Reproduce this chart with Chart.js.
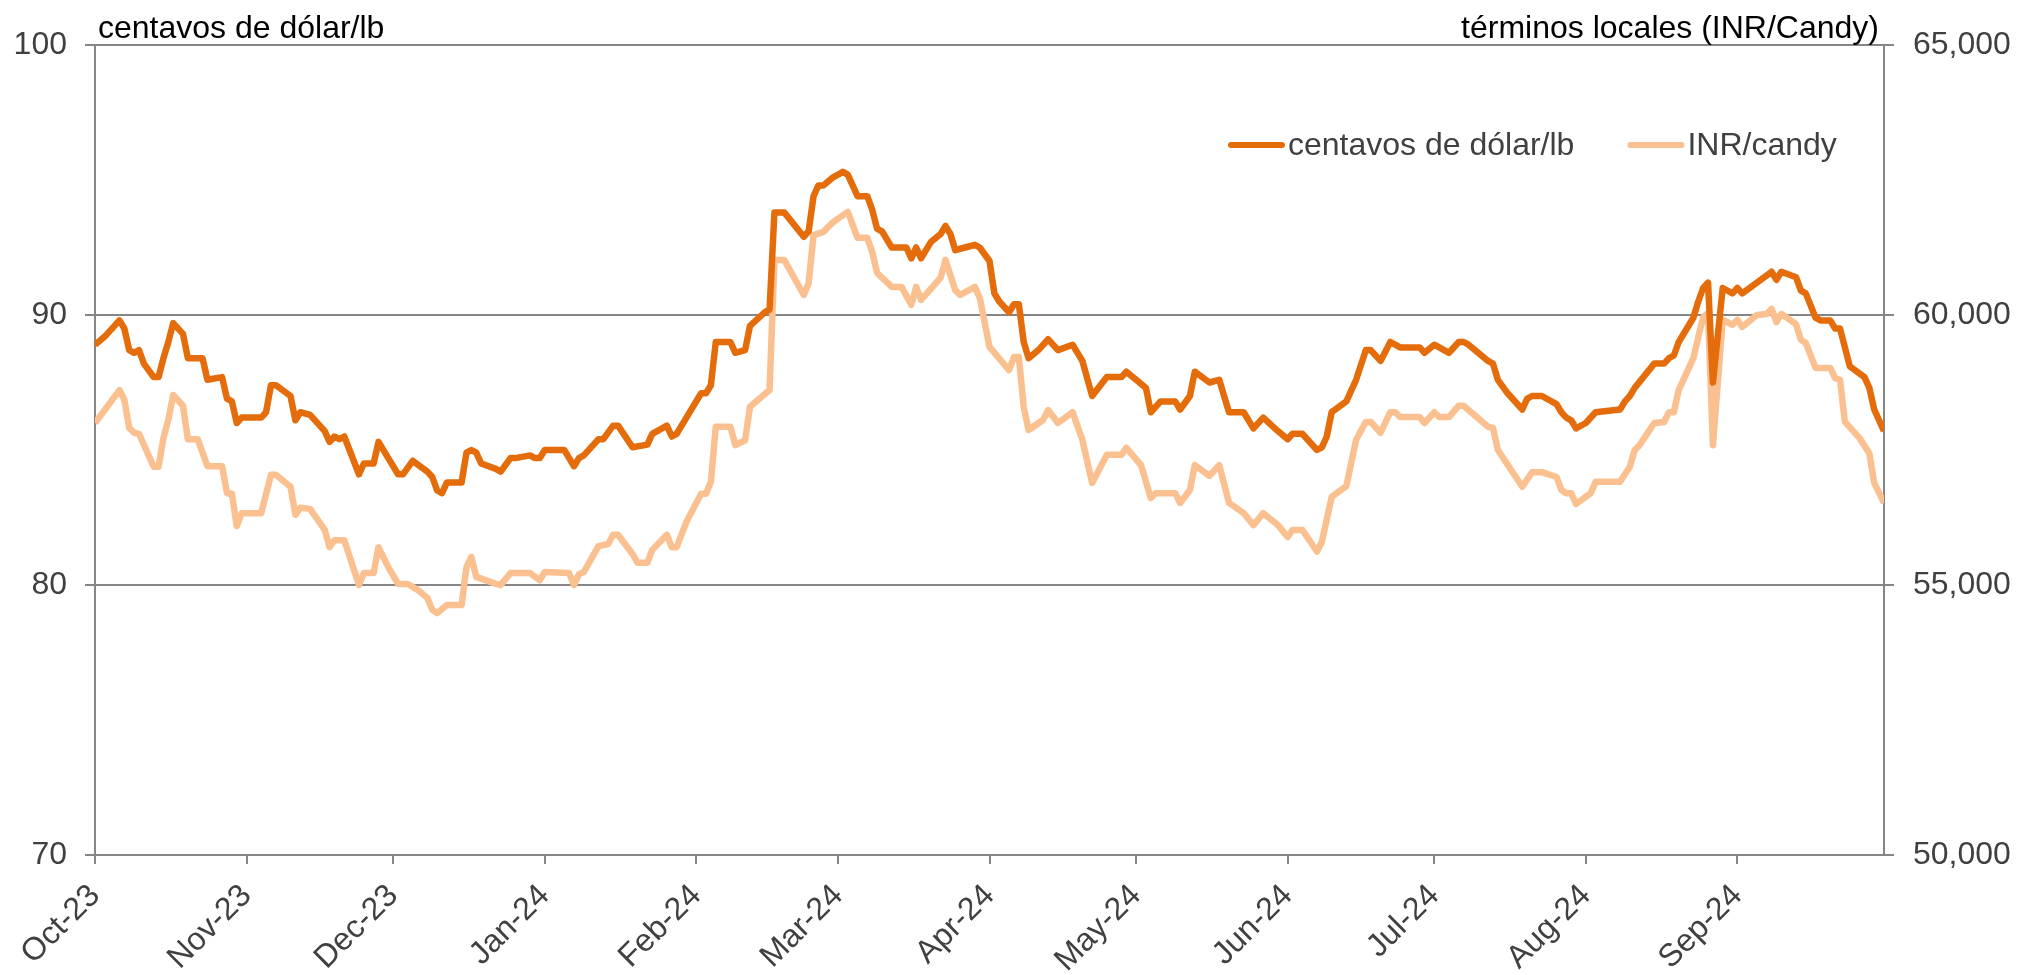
<!DOCTYPE html>
<html>
<head>
<meta charset="utf-8">
<title>Precio del algodón</title>
<script src="https://cdn.jsdelivr.net/npm/chart.js@4.4.1/dist/chart.umd.min.js"></script>
<style>
  html, body { margin: 0; padding: 0; background: #ffffff; }
  canvas { display: block; }
</style>
</head>
<body>
<canvas id="chart" width="2025" height="975"></canvas>
<script>
// axis ticks (days counted from 1 Oct 2023)
var monthStarts = [0, 31, 61, 92, 123, 152, 183, 213, 244, 274, 305, 336];
var monthLabels = ["Oct-23", "Nov-23", "Dec-23", "Jan-24", "Feb-24", "Mar-24", "Apr-24", "May-24", "Jun-24", "Jul-24", "Aug-24", "Sep-24"];

var seriesNames = ["centavos de dólar/lb", "INR/candy"];

// centavos de dólar/lb (left axis)
var usdDays = [0, 2, 5, 6, 7, 8, 9, 10, 12, 13, 14, 15, 16, 18, 19, 22, 23, 26, 27, 28, 29, 30, 34, 35, 36, 37, 40, 41, 42, 44,
  47, 48, 49, 50, 51, 54, 55, 57, 58, 60, 62, 63, 65, 68, 69, 70, 71, 72, 75, 76, 77, 78, 79, 82, 83, 85, 86, 89, 90, 91,
  92, 96, 97, 98, 99, 100, 103, 104, 106, 107, 110, 113, 114, 117, 118, 119, 121, 124, 125, 126, 127, 130, 131, 133, 134, 137, 138, 139, 141, 145,
  146, 147, 148, 149, 151, 153, 154, 156, 158, 159, 160, 161, 163, 166, 167, 168, 169, 171, 173, 174, 175, 176, 178, 180, 181, 183, 184, 185, 187, 188,
  189, 190, 191, 193, 195, 197, 200, 202, 204, 207, 210, 211, 213, 215, 216, 218, 221, 222, 224, 225, 228, 230, 232, 235, 237, 239, 242, 244, 245, 247,
  250, 251, 252, 253, 256, 258, 260, 261, 263, 265, 266, 267, 271, 272, 274, 275, 277, 279, 280, 281, 285, 286, 287, 289, 292, 293, 294, 296, 299, 300,
  301, 302, 303, 305, 307, 312, 313, 314, 315, 319, 321, 322, 323, 324, 327, 328, 329, 330, 331, 333, 335, 336, 337, 340, 343, 344, 345, 348, 349, 350,
  352, 353, 355, 356, 357, 359, 362, 363, 364, 366];
var usdValues = [88.9, 89.2, 89.8, 89.5, 88.7, 88.6, 88.7, 88.2, 87.7, 87.7, 88.4, 89.0, 89.7, 89.3, 88.4, 88.4, 87.6, 87.7, 86.9, 86.8, 86.0, 86.2, 86.2, 86.4, 87.4, 87.4, 87.0, 86.1, 86.4, 86.3,
  85.7, 85.3, 85.5, 85.4, 85.5, 84.1, 84.5, 84.5, 85.3, 84.7, 84.1, 84.1, 84.6, 84.2, 84.0, 83.5, 83.4, 83.8, 83.8, 84.9, 85.0, 84.9, 84.5, 84.3, 84.2, 84.7, 84.7, 84.8, 84.7, 84.7,
  85.0, 85.0, 84.7, 84.4, 84.7, 84.8, 85.4, 85.4, 85.9, 85.9, 85.1, 85.2, 85.6, 85.9, 85.5, 85.6, 86.2, 87.1, 87.1, 87.4, 89.0, 89.0, 88.6, 88.7, 89.6, 90.1, 90.2, 93.8, 93.8, 92.9,
  93.1, 94.4, 94.8, 94.8, 95.1, 95.3, 95.2, 94.4, 94.4, 93.9, 93.2, 93.1, 92.5, 92.5, 92.1, 92.5, 92.1, 92.7, 93.0, 93.3, 93.0, 92.4, 92.5, 92.6, 92.5, 92.0, 90.8, 90.5, 90.1, 90.4,
  90.4, 89.0, 88.4, 88.7, 89.1, 88.7, 88.9, 88.3, 87.0, 87.7, 87.7, 87.9, 87.6, 87.3, 86.4, 86.8, 86.8, 86.5, 87.0, 87.9, 87.5, 87.6, 86.4, 86.4, 85.8, 86.2, 85.7, 85.4, 85.6, 85.6,
  85.0, 85.1, 85.5, 86.4, 86.8, 87.6, 88.7, 88.7, 88.3, 89.0, 88.9, 88.8, 88.8, 88.6, 88.9, 88.8, 88.6, 89.0, 89.0, 88.9, 88.3, 88.2, 87.6, 87.1, 86.5, 86.9, 87.0, 87.0, 86.7, 86.4,
  86.2, 86.1, 85.8, 86.0, 86.4, 86.5, 86.8, 87.0, 87.3, 88.2, 88.2, 88.4, 88.5, 89.0, 89.9, 90.5, 91.0, 91.2, 87.5, 91.0, 90.8, 91.0, 90.8, 91.2, 91.6, 91.3, 91.6, 91.4, 90.9, 90.8,
  89.9, 89.8, 89.8, 89.5, 89.5, 88.1, 87.7, 87.3, 86.5, 85.7];

// INR/candy (right axis)
var inrDays = [0, 2, 5, 6, 7, 8, 9, 12, 13, 14, 15, 16, 18, 19, 21, 23, 26, 27, 28, 29, 30, 34, 36, 37, 40, 41, 42, 44, 47, 48,
  49, 51, 54, 55, 57, 58, 60, 62, 64, 66, 68, 69, 70, 72, 75, 76, 77, 78, 82, 83, 85, 89, 91, 92, 97, 98, 99, 100, 103, 105,
  106, 107, 110, 111, 113, 114, 117, 118, 119, 121, 124, 125, 126, 127, 130, 131, 133, 134, 138, 139, 141, 145, 146, 147, 149, 151, 154, 156, 158, 159,
  160, 161, 163, 165, 167, 168, 169, 173, 174, 176, 177, 180, 181, 183, 187, 188, 189, 190, 191, 194, 195, 197, 200, 202, 204, 207, 210, 211, 214, 216,
  217, 221, 222, 224, 225, 228, 230, 232, 235, 237, 239, 242, 244, 245, 247, 250, 251, 253, 256, 258, 260, 261, 263, 265, 266, 267, 271, 272, 274, 275,
  277, 279, 280, 281, 285, 286, 287, 292, 294, 296, 299, 300, 301, 302, 303, 306, 307, 312, 314, 315, 316, 319, 321, 322, 323, 324, 327, 328, 329, 330,
  331, 333, 335, 336, 337, 340, 342, 343, 344, 345, 348, 349, 350, 352, 355, 356, 357, 358, 361, 363, 364, 366];
var inrValues = [58000, 58240, 58610, 58430, 57910, 57820, 57800, 57190, 57190, 57720, 58060, 58520, 58320, 57700, 57700, 57200, 57200, 56700, 56690, 56090, 56330, 56330, 57040, 57040, 56820, 56300, 56430, 56410, 56020, 55700,
  55830, 55830, 55000, 55220, 55220, 55700, 55330, 55020, 55020, 54910, 54760, 54540, 54480, 54630, 54630, 55330, 55520, 55150, 55020, 55000, 55220, 55220, 55090, 55240, 55220, 55000, 55200, 55240, 55720, 55760,
  55930, 55930, 55570, 55410, 55410, 55650, 55930, 55700, 55700, 56170, 56690, 56690, 56910, 57930, 57930, 57590, 57680, 58300, 58610, 61020, 61020, 60370, 60590, 61480, 61540, 61720, 61910, 61430, 61430, 61170,
  60780, 60690, 60520, 60520, 60190, 60520, 60280, 60690, 61020, 60460, 60370, 60520, 60320, 59410, 58980, 59220, 59220, 58300, 57870, 58060, 58240, 58000, 58200, 57690, 56890, 57410, 57410, 57540, 57220, 56610,
  56700, 56700, 56520, 56760, 57220, 57020, 57220, 56520, 56330, 56110, 56330, 56110, 55890, 56020, 56020, 55620, 55800, 56630, 56830, 57690, 58020, 58020, 57820, 58200, 58200, 58110, 58110, 58000, 58200, 58110,
  58110, 58320, 58320, 58240, 57930, 57910, 57500, 56820, 57090, 57090, 57000, 56760, 56700, 56700, 56500, 56700, 56910, 56910, 57190, 57500, 57590, 58000, 58020, 58200, 58200, 58610, 59200, 59590, 59960, 60040,
  57590, 59910, 59820, 59910, 59780, 60000, 60020, 60110, 59870, 60020, 59830, 59540, 59480, 59020, 59020, 58830, 58800, 58020, 57720, 57440, 56890, 56520];

var darkOrange = "#e46c0a";
var lightOrange = "#fac090";
var axisGrey = "#868686";
var textGrey = "#404040";
var fontFamily = "'Liberation Sans', Arial, Helvetica, sans-serif";

function toPoints(days, values) {
  var pts = [];
  for (var i = 0; i < days.length; i++) {
    pts.push({ x: days[i], y: values[i] });
  }
  return pts;
}

// draws the two axis captions and the legend inside the plot
var captionsPlugin = {
  id: "captions",
  afterDraw: function (chart) {
    var ctx = chart.ctx;
    var area = chart.chartArea;
    ctx.save();
    ctx.font = "32px " + fontFamily;
    ctx.textBaseline = "alphabetic";
    ctx.fillStyle = "#000000";
    ctx.textAlign = "left";
    ctx.fillText("centavos de dólar/lb", area.left + 3, 38);
    ctx.textAlign = "right";
    ctx.fillText("términos locales (INR/Candy)", area.right - 5, 38);

    // legend
    var x = 1228;
    var y = 145;
    ctx.textAlign = "left";
    ctx.textBaseline = "middle";
    chart.data.datasets.forEach(function (ds) {
      ctx.strokeStyle = ds.borderColor;
      ctx.lineWidth = 6;
      ctx.lineCap = "round";
      ctx.beginPath();
      ctx.moveTo(x + 3, y);
      ctx.lineTo(x + 54, y);
      ctx.stroke();
      ctx.fillStyle = textGrey;
      ctx.fillText(ds.label, x + 60, y + 1);
      x += 60 + ctx.measureText(ds.label).width + 53;
    });
    ctx.restore();
  }
};

var config = {
  type: "line",
  data: {
    datasets: [
      {
        label: seriesNames[0],
        data: toPoints(usdDays, usdValues),
        yAxisID: "yL",
        borderColor: darkOrange,
        backgroundColor: darkOrange,
        borderWidth: 6.5,
        pointRadius: 0,
        tension: 0,
        borderJoinStyle: "round"
      },
      {
        label: seriesNames[1],
        data: toPoints(inrDays, inrValues),
        yAxisID: "yR",
        borderColor: lightOrange,
        backgroundColor: lightOrange,
        borderWidth: 6.5,
        pointRadius: 0,
        tension: 0,
        borderJoinStyle: "round"
      }
    ]
  },
  options: {
    responsive: false,
    animation: false,
    devicePixelRatio: 1,
    layout: { padding: { top: 45, left: 0, right: 0, bottom: 0 } },
    plugins: {
      legend: { display: false },
      tooltip: { enabled: false }
    },
    scales: {
      x: {
        type: "linear",
        min: 0,
        max: 366,
        afterBuildTicks: function (scale) {
          scale.ticks = monthStarts.map(function (d) { return { value: d }; });
        },
        afterFit: function (scale) { scale.height = 120; },
        border: { color: axisGrey, width: 2 },
        grid: { drawOnChartArea: false, drawTicks: true, tickLength: 9, color: axisGrey, lineWidth: 2 },
        ticks: {
          autoSkip: false,
          minRotation: 45,
          maxRotation: 45,
          padding: 13,
          color: textGrey,
          font: { family: fontFamily, size: 32 },
          callback: function (value) {
            var i = monthStarts.indexOf(value);
            return i >= 0 ? monthLabels[i] : "";
          }
        }
      },
      yL: {
        position: "left",
        min: 70,
        max: 100,
        afterFit: function (scale) { scale.width = 95; },
        border: { color: axisGrey, width: 2 },
        grid: { color: axisGrey, lineWidth: 2, tickLength: 10 },
        ticks: {
          stepSize: 10,
          padding: 18,
          color: textGrey,
          font: { family: fontFamily, size: 32 }
        }
      },
      yR: {
        position: "right",
        min: 50000,
        max: 65000,
        afterFit: function (scale) { scale.width = 141; },
        border: { color: axisGrey, width: 2 },
        grid: { drawOnChartArea: false, color: axisGrey, lineWidth: 2, tickLength: 10 },
        ticks: {
          stepSize: 5000,
          padding: 19,
          color: textGrey,
          font: { family: fontFamily, size: 32 },
          callback: function (value) { return value.toLocaleString("en-US"); }
        }
      }
    }
  },
  plugins: [captionsPlugin]
};

new Chart(document.getElementById("chart").getContext("2d"), config);
</script>
</body>
</html>
